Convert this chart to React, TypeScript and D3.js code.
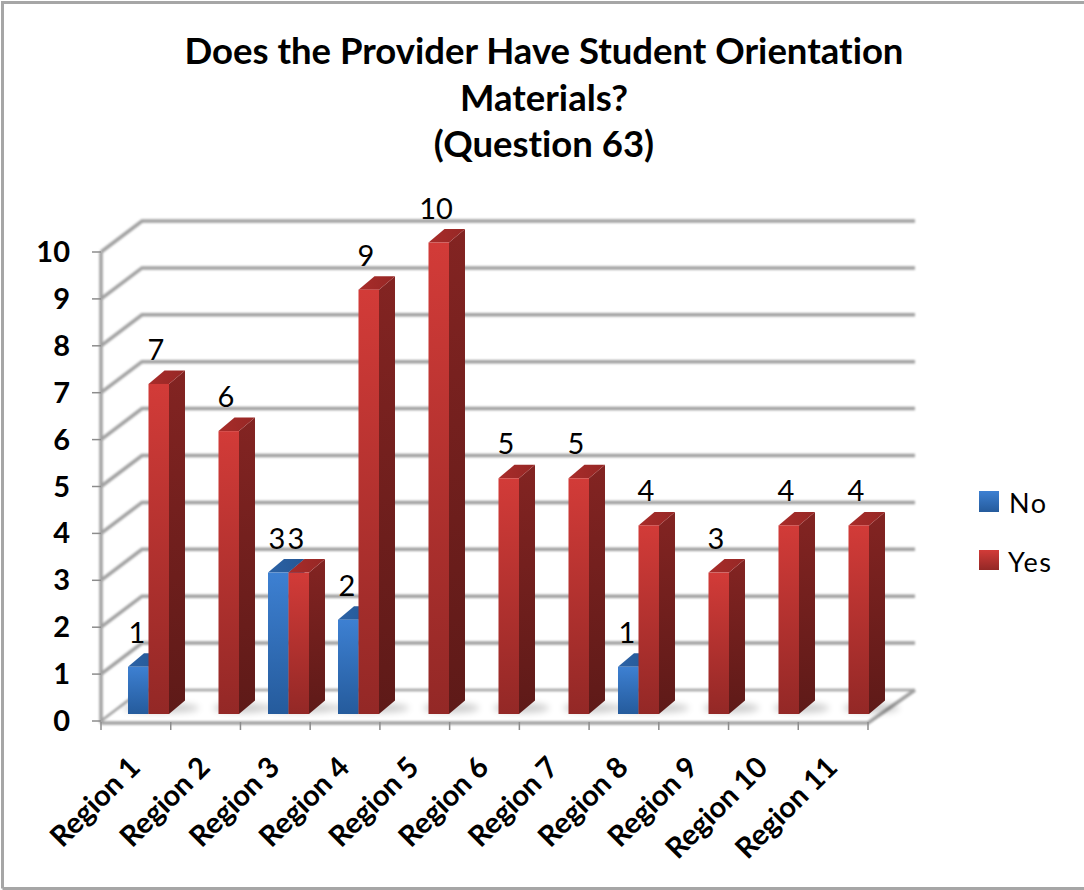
import React from "react";
import * as d3 from "d3";

const regions = ["Region 1","Region 2","Region 3","Region 4","Region 5","Region 6","Region 7","Region 8","Region 9","Region 10","Region 11"];
const noValues = [1,0,3,2,0,0,0,1,0,0,0];
const yesValues = [7,6,3,9,10,5,5,4,3,4,4];
const yTicks = [0,1,2,3,4,5,6,7,8,9,10];
const titleLines = ["Does the Provider Have Student Orientation","Materials?","(Question 63)"];

const FONT = "Lato, Carlito, sans-serif";
const x = d3.scaleBand<string>().domain(regions).range([101, 868]);
const barX = d3.scaleBand<string>().domain(regions).range([99, 869]);
const y = d3.scaleLinear().domain([0,10]).range([721, 252]);
const barY = d3.scaleLinear().domain([0,10]).range([714, 242.5]);
const DX = 41, DY = -31;
const BW = 20.5, BDX = 16, BDY = -13.5;

function Bar({ x0, v, c }: { x0: number; v: number; c: string }) {
  const t = barY(v), b = barY(0);
  return (
    <g>
      <polygon points={`${x0+BW},${t} ${x0+BW+BDX},${t+BDY} ${x0+BW+BDX},${b+BDY} ${x0+BW},${b}`} fill={`url(#${c}Side)`} />
      <polygon points={`${x0},${t} ${x0+BDX},${t+BDY} ${x0+BW+BDX},${t+BDY} ${x0+BW},${t}`} fill={`url(#${c}Top)`} />
      <rect x={x0} y={t} width={BW} height={b-t} fill={`url(#${c}Front)`} />
    </g>
  );
}

export default function App() {
  const left = 101, right = 868;
  return (
    <svg width={1084} height={890} style={{ position: "absolute", left: 0, top: 0, fontFamily: FONT, fontVariantLigatures: "none" }}>
      <defs>
        <linearGradient id="redFront" x1="0" y1="0" x2="0" y2="1"><stop offset="0" stopColor="#d23b38"/><stop offset="1" stopColor="#932826"/></linearGradient>
        <linearGradient id="redSide" x1="0" y1="0" x2="0" y2="1"><stop offset="0" stopColor="#832422"/><stop offset="1" stopColor="#5e1a18"/></linearGradient>
        <linearGradient id="redTop" x1="0" y1="0" x2="1" y2="0"><stop offset="0" stopColor="#a82c2a"/><stop offset="1" stopColor="#962725"/></linearGradient>
        <linearGradient id="blueFront" x1="0" y1="0" x2="0" y2="1"><stop offset="0" stopColor="#3d80d2"/><stop offset="1" stopColor="#255b9c"/></linearGradient>
        <linearGradient id="blueSide" x1="0" y1="0" x2="0" y2="1"><stop offset="0" stopColor="#224f88"/><stop offset="1" stopColor="#1b3f6e"/></linearGradient>
        <linearGradient id="blueTop" x1="0" y1="0" x2="1" y2="0"><stop offset="0" stopColor="#2b62a6"/><stop offset="1" stopColor="#265793"/></linearGradient>
        <filter id="soft" x="-5%" y="-5%" width="110%" height="110%"><feGaussianBlur stdDeviation="0.8"/></filter>
        <filter id="shadow" x="-30%" y="-100%" width="160%" height="300%"><feGaussianBlur stdDeviation="3.5"/></filter>
      </defs>
      <rect x={0} y={0} width={1084} height={890} fill="#fff"/>
      <path d="M2.5,888.5 V2.5 H1084 M2.5,888.5 H1084" fill="none" stroke="#a6a6a6" strokeWidth={3}/>

      <g filter="url(#soft)" fill="none" stroke="#a0a0a0" strokeWidth={3.5}>
        {yTicks.map(t => (
          <path key={t} d={`M${left},${y(t)} L${left+DX},${y(t)+DY} H${right+47}`} strokeWidth={t===0?2.5:3.5}/>
        ))}
        <path d={`M${left},${y(10)} V${y(0)+2}`} />
        <path d={`M${left},${y(0)+2} H${right} L${right+47},${y(0)+DY}`} strokeWidth={3.5}/>
      </g>
      <g stroke="#8c8c8c" strokeWidth={1.5}>
        {yTicks.map(t => <line key={t} x1={left-9} x2={left} y1={y(t)} y2={y(t)}/>)}
        {[...regions.map(r => x(r)!), right].map((v,i) => <line key={i} x1={v} x2={v} y1={y(0)+1} y2={y(0)+9}/>)}
      </g>

      <g fill="#000" opacity={0.2} filter="url(#shadow)">
        {regions.map((r,i) => {
          const end = barX(r)! + barX.bandwidth();
          return <ellipse key={r} cx={end+2-(noValues[i]>0?10:0)} cy={barY(0)-6} rx={noValues[i]>0?38:28} ry={5}/>;
        })}
      </g>

      {regions.map((r,i) => {
        const end = barX(r)! + barX.bandwidth();
        return (
          <g key={r}>
            {noValues[i]>0 && <Bar x0={end-2*BW} v={noValues[i]} c="blue"/>}
            <Bar x0={end-BW} v={yesValues[i]} c="red"/>
          </g>
        );
      })}

      <g fontSize={29} textAnchor="middle" fill="#000">
        {regions.map((r,i) => {
          const end = barX(r)! + barX.bandwidth();
          return (
            <g key={r}>
              {noValues[i]>0 && <text x={end-32} y={barY(noValues[i])-24}>{noValues[i]}</text>}
              <text x={end-13} y={barY(yesValues[i])-24}>{yesValues[i]}</text>
            </g>
          );
        })}
      </g>

      <g fontSize={29} fontWeight={700} textAnchor="end" fill="#000">
        {yTicks.map(t => <text key={t} x={70} y={y(t)+10}>{t}</text>)}
      </g>

      <g fontSize={29} fontWeight={700} textAnchor="end" fill="#000">
        {regions.map(r => {
          const c = x(r)! + x.bandwidth()/2;
          return <text key={r} transform={`translate(${c+6},${769}) rotate(-45)`}>{r}</text>;
        })}
      </g>

      <g fontSize={36.5} fontWeight={700} textAnchor="middle" fill="#000">
        {titleLines.map((l,i) => <text key={l} x={544} y={64+i*46.5}>{l}</text>)}
      </g>

      <rect x={979} y={491} width={20} height={21} fill="url(#blueFront)"/>
      <rect x={979} y={550} width={20} height={20} fill="url(#redFront)"/>
      <g fontSize={27} fill="#000" letterSpacing={1.5}>
        <text x={1009} y={513}>No</text>
        <text x={1008} y={572}>Yes</text>
      </g>
    </svg>
  );
}
